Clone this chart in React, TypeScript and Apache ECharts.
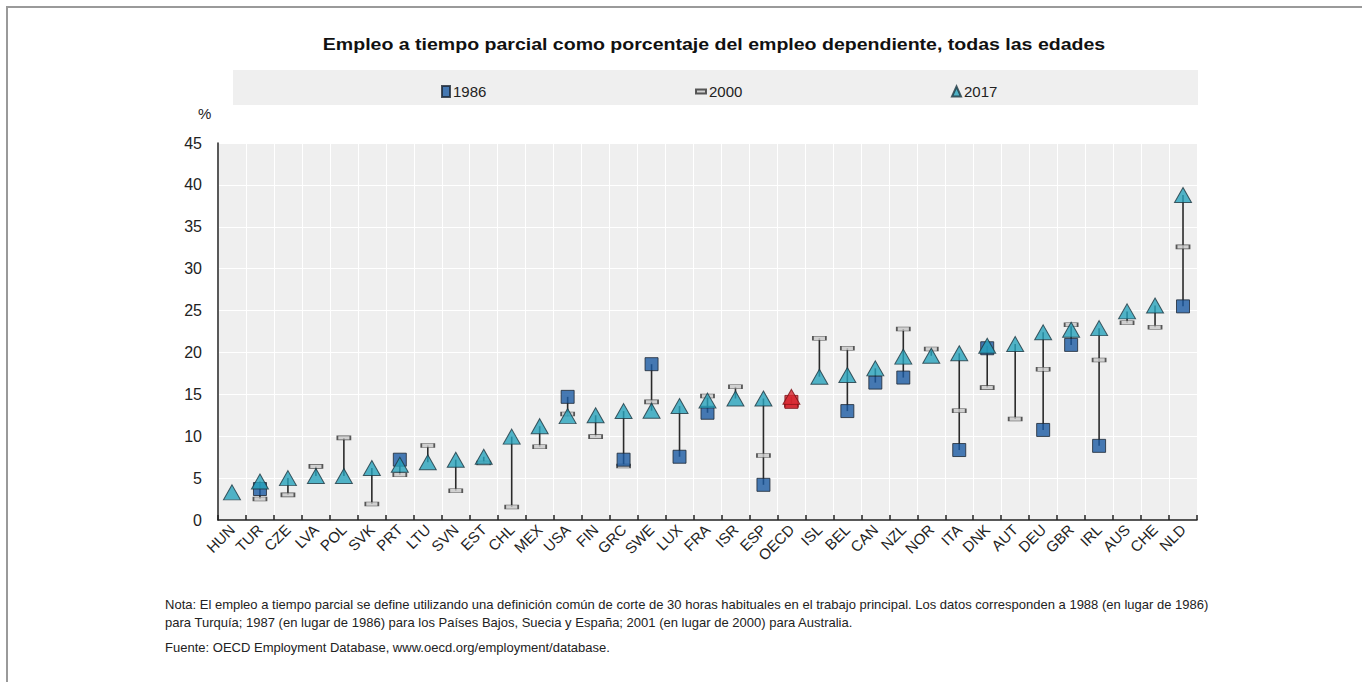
import React, { useEffect, useRef } from "react";
import * as echarts from "echarts";

const categories = ["HUN","TUR","CZE","LVA","POL","SVK","PRT","LTU","SVN","EST","CHL","MEX","USA","FIN","GRC","SWE","LUX","FRA","ISR","ESP","OECD","ISL","BEL","CAN","NZL","NOR","ITA","DNK","AUT","DEU","GBR","IRL","AUS","CHE","NLD"];

const v1986: (number | null)[] = [null,3.7,null,null,null,null,7.2,null,null,null,null,null,14.7,null,7.2,18.6,7.55,12.8,null,4.2,14.1,null,13.0,16.4,17.0,null,8.35,20.5,null,10.75,20.9,8.85,null,null,25.5];

const v2000: (number | null)[] = [null,2.5,3.0,6.4,9.8,1.9,5.4,8.9,3.5,6.8,1.55,8.75,12.65,9.95,6.45,14.1,null,14.8,15.9,7.7,13.7,21.7,20.5,null,22.8,20.4,13.05,15.8,12.05,18.0,23.3,19.1,23.55,23.0,32.6];

const v2017: (number | null)[] = [3.3,4.6,5.0,5.25,5.25,6.2,6.6,6.9,7.2,7.55,9.95,11.2,12.4,12.5,13.0,13.05,13.6,14.25,14.5,14.5,14.7,17.1,17.3,18.1,19.5,19.6,19.9,20.8,21.0,22.4,22.7,22.9,24.9,25.6,38.8];

const yTicks = { min: 0, max: 45, interval: 5 };

const titleText = "Empleo a tiempo parcial como porcentaje del empleo dependiente, todas las edades";
const note1 = "Nota: El empleo a tiempo parcial se define utilizando una definición común de corte de 30 horas habituales en el trabajo principal. Los datos corresponden a 1988 (en lugar de 1986)";
const note2 = "para Turquía; 1987 (en lugar de 1986) para los Países Bajos, Suecia y España; 2001 (en lugar de 2000) para Australia.";
const source = "Fuente: OECD Employment Database, www.oecd.org/employment/database.";

const HIGHLIGHT = "OECD";
const FONT = "'Liberation Sans', Arial, sans-serif";

export default function App() {
  const ref = useRef<HTMLDivElement>(null);
  useEffect(() => {
    if (!ref.current) return;
    const chart = echarts.init(ref.current, null, { renderer: "svg" });

    const ranges = categories.map((c, i) => {
      const vals = [v1986[i], v2000[i], v2017[i]].filter((v) => v != null) as number[];
      return [i, Math.min(...vals), Math.max(...vals)];
    });

    const mk = (arr: (number | null)[], color: string, border: string) =>
      arr.map((v, i) =>
        v == null
          ? "-"
          : categories[i] === HIGHLIGHT
          ? { value: v, itemStyle: { color: "#d7262e", borderColor: "#7a1015" } }
          : { value: v, itemStyle: { color, borderColor: border } }
      );

    const legText = { fontSize: 15, color: "#222", fontFamily: FONT, padding: [0, 0, 0, -2] };

    const option: any = {
      animation: false,
      textStyle: { fontFamily: FONT },
      grid: {
        left: 218,
        right: 165,
        top: 143,
        bottom: 162,
        show: true,
        backgroundColor: "#efefef",
        borderWidth: 0,
      },
      legend: [
        { data: ["1986"], left: 436, top: 79, icon: "rect", itemWidth: 8, itemHeight: 11, textStyle: legText },
        { data: ["2000"], left: 690, top: 79, icon: "rect", itemWidth: 10, itemHeight: 4, textStyle: legText },
        { data: ["2017"], left: 946, top: 79, icon: "triangle", itemWidth: 9, itemHeight: 10, textStyle: legText },
      ],
      xAxis: {
        type: "category",
        data: categories,
        boundaryGap: true,
        axisLine: { lineStyle: { color: "#222", width: 1.5 } },
        axisTick: { show: true, inside: true, length: 5, lineStyle: { color: "#222", width: 1.5 } },
        axisLabel: { rotate: 45, fontSize: 15, color: "#222", margin: 7, interval: 0, fontFamily: FONT },
        splitLine: { show: true, interval: 0, lineStyle: { color: "#ffffff", width: 1 } },
      },
      yAxis: {
        type: "value",
        min: yTicks.min,
        max: yTicks.max,
        interval: yTicks.interval,
        axisLine: { show: true, lineStyle: { color: "#222", width: 1.5 } },
        axisTick: { show: false },
        axisLabel: { fontSize: 16, color: "#222", margin: 16, fontFamily: FONT },
        splitLine: { show: true, lineStyle: { color: "#ffffff", width: 1.2 } },
      },
      graphic: [
        { type: "line", shape: { x1: 6, y1: 7, x2: 1362, y2: 7 }, style: { stroke: "#9a9a9a", lineWidth: 2 } },
        { type: "line", shape: { x1: 7, y1: 6, x2: 7, y2: 682 }, style: { stroke: "#9a9a9a", lineWidth: 2 } },
        { type: "rect", z: -10, shape: { x: 233, y: 70, width: 965, height: 35 }, style: { fill: "#efefef" } },
        { type: "text", x: 714, y: 44, scaleX: 1.15, style: { text: titleText, font: `bold 17px ${FONT}`, fill: "#111", align: "center", verticalAlign: "middle" } },
        { type: "text", x: 198, y: 113, style: { text: "%", font: `15px ${FONT}`, fill: "#222", align: "left", verticalAlign: "middle" } },
        { type: "text", x: 165, y: 605, scaleX: 1.085, style: { text: note1, font: `12px ${FONT}`, fill: "#222", verticalAlign: "middle" } },
        { type: "text", x: 165, y: 623, scaleX: 1.085, style: { text: note2, font: `12px ${FONT}`, fill: "#222", verticalAlign: "middle" } },
        { type: "text", x: 165, y: 648, scaleX: 1.085, style: { text: source, font: `12px ${FONT}`, fill: "#222", verticalAlign: "middle" } },
      ],
      series: [
        {
          type: "custom",
          name: "range",
          data: ranges,
          z: 1,
          renderItem: (params: any, api: any) => {
            const p1 = api.coord([api.value(0), api.value(1)]);
            const p2 = api.coord([api.value(0), api.value(2)]);
            return {
              type: "line",
              shape: { x1: p1[0], y1: p1[1], x2: p2[0], y2: p2[1] },
              style: { stroke: "#2a2a2a", lineWidth: 1.6 },
            };
          },
        },
        {
          type: "scatter",
          name: "2000",
          z: 2,
          symbol: "rect",
          symbolSize: [13, 4],
          itemStyle: { color: "#c8c8c8", borderColor: "#333", borderWidth: 1 },
          data: mk(v2000, "#c8c8c8", "#333"),
        },
        {
          type: "scatter",
          name: "1986",
          z: 3,
          symbol: "rect",
          symbolSize: 13,
          itemStyle: { color: "#1a5aa2", borderColor: "#1d2733", borderWidth: 1 },
          data: mk(v1986, "#1a5aa2", "#1d2733"),
        },
        {
          type: "scatter",
          name: "2017",
          z: 4,
          symbol: "triangle",
          symbolSize: [17, 15],
          itemStyle: { color: "#27a3bb", borderColor: "#1d3640", borderWidth: 1 },
          data: mk(v2017, "#27a3bb", "#1d3640"),
        },
      ],
    };
    chart.setOption(option);
    return () => chart.dispose();
  }, []);
  return (
    <div
      ref={ref}
      style={{ position: "fixed", left: 0, top: 0, width: 1362, height: 682, background: "#fff" }}
    />
  );
}
